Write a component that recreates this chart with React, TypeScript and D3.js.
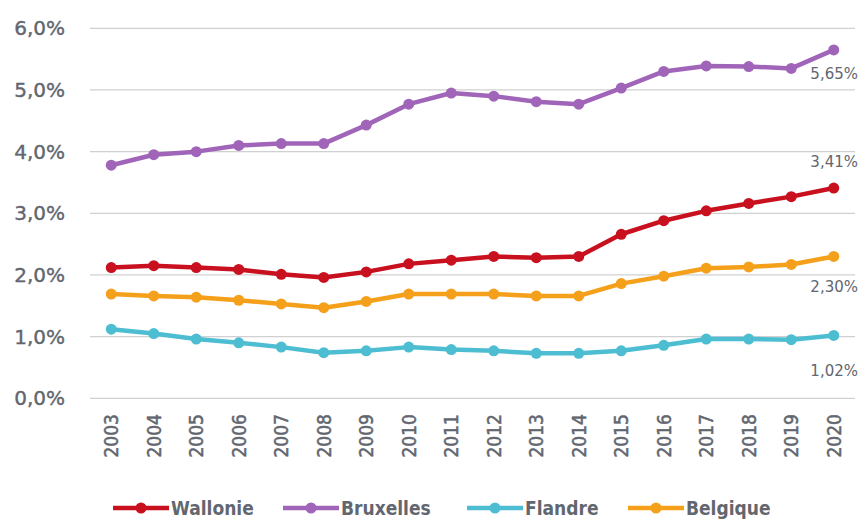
import React from "react";
import * as d3 from "d3";

const years = [2003, 2004, 2005, 2006, 2007, 2008, 2009, 2010, 2011, 2012, 2013, 2014, 2015, 2016, 2017, 2018, 2019, 2020];
const wallonie = [2.12, 2.15, 2.12, 2.09, 2.01, 1.96, 2.05, 2.18, 2.24, 2.30, 2.28, 2.30, 2.66, 2.88, 3.04, 3.16, 3.27, 3.41];
const bruxelles = [3.78, 3.95, 4.0, 4.1, 4.13, 4.13, 4.43, 4.77, 4.95, 4.90, 4.81, 4.77, 5.03, 5.30, 5.39, 5.38, 5.35, 5.65];
const flandre = [1.12, 1.05, 0.96, 0.9, 0.83, 0.74, 0.77, 0.83, 0.79, 0.77, 0.73, 0.73, 0.77, 0.86, 0.96, 0.96, 0.95, 1.02];
const belgique = [1.69, 1.66, 1.64, 1.59, 1.53, 1.47, 1.57, 1.69, 1.69, 1.69, 1.66, 1.66, 1.86, 1.98, 2.11, 2.13, 2.17, 2.30];
const yTicks = [0, 1, 2, 3, 4, 5, 6];
const seriesNames = ["Wallonie", "Bruxelles", "Flandre", "Belgique"];
const endLabels = ["3,41%", "5,65%", "1,02%", "2,30%"];
const colors = ["#c8101f", "#a065b8", "#4dbdd2", "#f5a01b"];

const W = 861;
const H = 519;
const left = 90;
const right = 855;
const top = 28.3;
const bottom = 398.3;

const textColor = "#62666f";

export default function App() {
  const x = d3.scalePoint<number>().domain(years).range([left, right]).padding(0.5);
  const y = d3.scaleLinear().domain([0, 6]).range([bottom, top]);
  const data = [wallonie, bruxelles, flandre, belgique];
  const line = d3
    .line<number>()
    .x((_, i) => x(years[i]) as number)
    .y((d) => y(d));

  const endLabelOffsets = [-26, 24, 36, 31];
  const legendX = [113, 283, 467, 628];

  return (
    <svg
      width={W}
      height={H}
      style={{ position: "absolute", left: 0, top: 0, background: "#fff" }}
    >
      {yTicks.map((t) => (
        <g key={t}>
          <line x1={left} x2={right} y1={y(t)} y2={y(t)} stroke="#d0d0d0" strokeWidth={1.3} />
          <text
            x={65}
            y={y(t)}
            textAnchor="end"
            dominantBaseline="central"
            fontFamily="DejaVu Sans"
            fontSize={20}
            fill={textColor}
            stroke={textColor}
            strokeWidth={0.4}
          >
            {d3.format(".1f")(t).replace(".", ",") + "%"}
          </text>
        </g>
      ))}
      {years.map((yr) => (
        <text
          key={yr}
          transform={`translate(${x(yr)},${414}) rotate(-90)`}
          textAnchor="end"
          dominantBaseline="central"
          fontFamily="DejaVu Sans Condensed"
          fontSize={19}
          fill={textColor}
          stroke={textColor}
          strokeWidth={0.5}
        >
          {yr}
        </text>
      ))}
      {data.map((s, k) => (
        <g key={seriesNames[k]}>
          <path d={line(s) || ""} fill="none" stroke={colors[k]} strokeWidth={4.5} strokeLinejoin="round" />
          {s.map((v, i) => (
            <circle key={i} cx={x(years[i])} cy={y(v)} r={5.5} fill={colors[k]} />
          ))}
          <text
            x={858}
            y={y(s[s.length - 1]) + endLabelOffsets[k]}
            textAnchor="end"
            dominantBaseline="central"
            fontFamily="DejaVu Sans"
            fontSize={15}
            fill={textColor}
          >
            {endLabels[k]}
          </text>
        </g>
      ))}
      {seriesNames.map((n, k) => (
        <g key={n}>
          <line x1={legendX[k]} x2={legendX[k] + 56} y1={508} y2={508} stroke={colors[k]} strokeWidth={4.5} />
          <circle cx={legendX[k] + 28} cy={508} r={5.5} fill={colors[k]} />
          <text
            x={legendX[k] + 58}
            y={508}
            dominantBaseline="central"
            fontFamily="DejaVu Sans Condensed"
            fontWeight="bold"
            fontSize={19}
            fill={textColor}
          >
            {n}
          </text>
        </g>
      ))}
    </svg>
  );
}
